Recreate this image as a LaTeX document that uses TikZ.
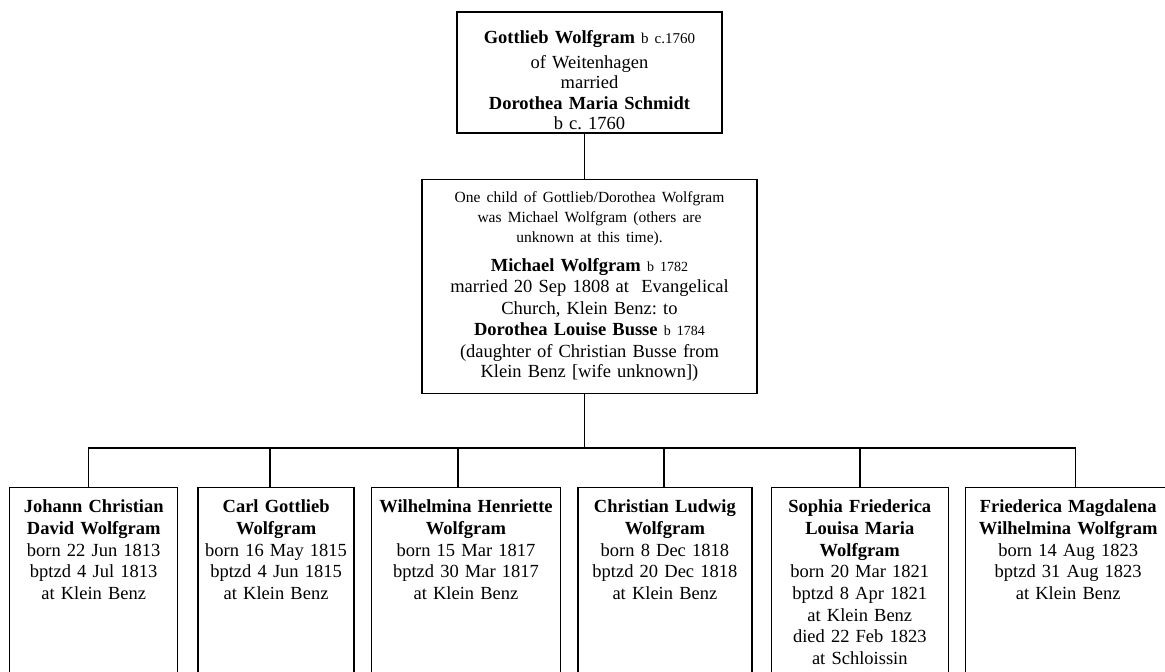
\documentclass[tikz,border=0pt]{standalone}
\usepackage{fontspec}
\setmainfont{Liberation Serif}
\usetikzlibrary{positioning}
\frenchspacing

\begin{document}
\begin{tikzpicture}[x=1pt,y=-1pt,line width=1.4pt]
	  \tikzstyle{parent}=[draw=black,fill=white,align=center,inner sep=5pt,font=\fontsize{18.5}{20.5}\selectfont]
	  \tikzstyle{child}=[draw=black,fill=white,align=center,inner sep=5pt,text height=20pt,text depth=185pt,font=\fontsize{18.5}{21.7}\selectfont]

	  \useasboundingbox (0,0) rectangle (1165,672);
	  \clip (0,0) rectangle (1165,672);

	  % parents and their son
	  \node[parent, text width=255pt, text height=26pt, text depth=85pt] (T) at (589.5,72.5)
	    {\textbf{Gottlieb Wolfgram} {\fontsize{15}{15}\selectfont b c.1760}\\[4.5pt] of Weitenhagen\\ married\\ \textbf{Dorothea Maria Schmidt}\\ b c. 1760};
	  \node[parent, text width=325pt, minimum height=214pt, below=45pt of T] (M)
	    {{\fontsize{15.5}{20}\selectfont One child of Gottlieb/Dorothea Wolfgram\\ was Michael Wolfgram (others are\\ unknown at this time).\par}
	     \vspace{8pt}\fontsize{18.5}{21.4}\selectfont
	     \textbf{Michael Wolfgram} {\fontsize{14}{14}\selectfont b 1782}\\ married 20 Sep 1808 at~ Evangelical\\ Church, Klein Benz: to\\ \textbf{Dorothea Louise Busse} {\fontsize{14}{14}\selectfont b 1784}\\ (daughter of Christian Busse from\\ Klein Benz [wife unknown])};

	  % children
	  \node[child, text width=158pt, anchor=north west] (c1) at (9,487)
	    {\textbf{Johann Christian\\ David Wolfgram}\\ born 22 Jun 1813\\ bptzd 4 Jul 1813\\ at Klein Benz};
	  \node[child, text width=146pt, right=19pt of c1] (c2)
	    {\textbf{Carl Gottlieb\\ Wolfgram}\\ born 16 May 1815\\ bptzd 4 Jun 1815\\ at Klein Benz};
	  \node[child, text width=179pt, right=16pt of c2] (c3)
	    {\textbf{Wilhelmina Henriette\\ Wolfgram}\\ born 15 Mar 1817\\ bptzd 30 Mar 1817\\ at Klein Benz};
	  \node[child, text width=164pt, right=16pt of c3] (c4)
	    {\textbf{Christian Ludwig\\ Wolfgram}\\ born 8 Dec 1818\\ bptzd 20 Dec 1818\\ at Klein Benz};
	  \node[child, text width=167pt, right=18pt of c4] (c5)
	    {\textbf{Sophia Friederica\\ Louisa Maria\\ Wolfgram}\\ born 20 Mar 1821\\ bptzd 8 Apr 1821\\ at Klein Benz\\ died 22 Feb 1823\\ at Schloissin};
	  \node[child, text width=195pt, right=16pt of c5] (c6)
	    {\textbf{Friederica Magdalena\\ Wilhelmina Wolfgram}\\ born 14 Aug 1823\\ bptzd 31 Aug 1823\\ at Klein Benz};

	  \coordinate[below=54pt of M, xshift=-5pt] (bus);
	  \draw ([xshift=-5pt]T.south) -- ([xshift=-5pt]M.north);
	  \draw ([xshift=-5pt]M.south) -- (bus);
	  \foreach \kid/\dx in {c1/-5,c2/-6,c3/-8,c4/-1,c5/0,c6/7}
	    \draw (bus) -| ([xshift=\dx pt]\kid.north);
	\end{tikzpicture}
\end{document}
